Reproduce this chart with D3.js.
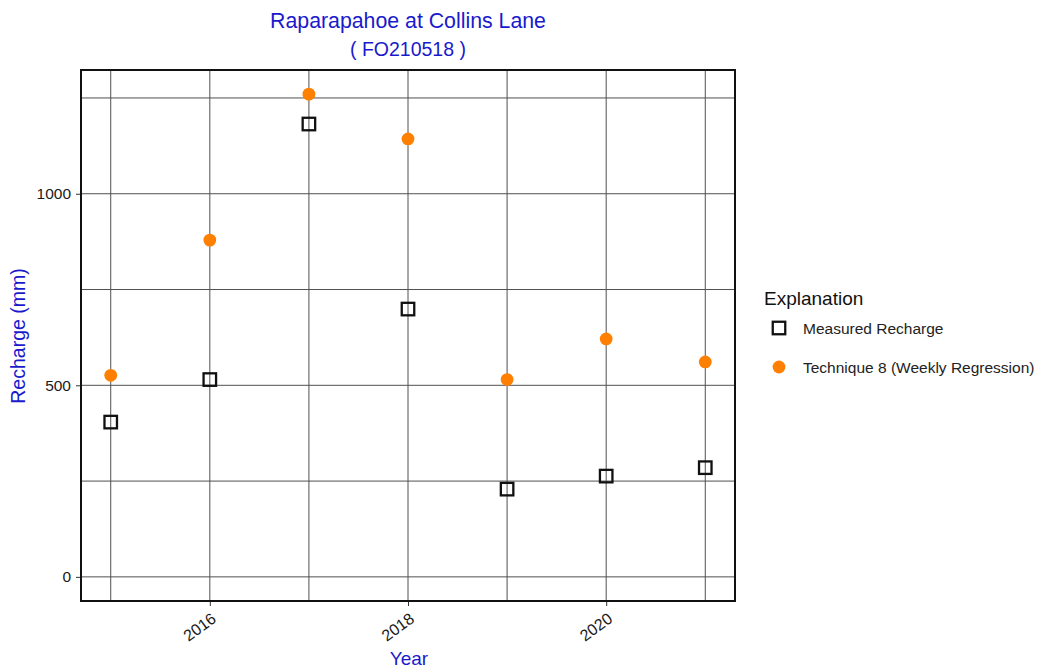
<!DOCTYPE html>
<html>
<head>
<meta charset="utf-8">
<script src="https://cdn.jsdelivr.net/npm/d3@7"></script>
<style>
  html, body { margin: 0; padding: 0; background: #fff; }
  svg { display: block; font-family: "Liberation Sans", Arial, sans-serif; }
</style>
</head>
<body>
<svg id="chart" width="1041" height="668"></svg>
<script>
// Annual recharge at Raparapahoe at Collins Lane (FO210518)
const years = [2015, 2016, 2017, 2018, 2019, 2020, 2021];
const measured = [404, 515, 1182, 699, 229, 263, 285];
const technique8 = [526, 879, 1260, 1143, 515, 621, 561];
const xTickLabels = [2016, 2018, 2020];
const yTickLabels = [0, 500, 1000];
const yGridValues = [0, 250, 500, 750, 1000, 1250];
const seriesNames = ["Measured Recharge", "Technique 8 (Weekly Regression)"];

const svg = d3.select("#chart");
const panel = { left: 81, right: 735, top: 70, bottom: 601 };
const blue = "#1a1acc";
const orange = "#ff8000";
const font = "'Liberation Sans', Arial, sans-serif";

// 5% padding around the data range (y range forced to include 0)
const xMin = d3.min(years), xMax = d3.max(years);
const xPad = (xMax - xMin) * 0.05;
const x = d3.scaleLinear()
  .domain([xMin - xPad, xMax + xPad])
  .range([panel.left, panel.right]);

const yLo = 0, yHi = d3.max(technique8.concat(measured));
const yPad = (yHi - yLo) * 0.05;
const y = d3.scaleLinear()
  .domain([yLo - yPad, yHi + yPad])
  .range([panel.bottom, panel.top]);

// Grid lines
const grid = svg.append("g");
grid.selectAll("line.h").data(yGridValues).join("line")
  .attr("class", "h")
  .attr("x1", panel.left).attr("x2", panel.right)
  .attr("y1", d => y(d)).attr("y2", d => y(d))
  .attr("stroke", "#505050").attr("stroke-width", 1);
grid.selectAll("line.v").data(years).join("line")
  .attr("class", "v")
  .attr("y1", panel.top).attr("y2", panel.bottom)
  .attr("x1", d => x(d)).attr("x2", d => x(d))
  .attr("stroke", "#505050").attr("stroke-width", 1);

// Axes
const xAxis = svg.append("g")
  .attr("transform", `translate(0,${panel.bottom})`)
  .call(d3.axisBottom(x).tickValues(xTickLabels).tickFormat(d3.format("d")).tickSize(5).tickPadding(4));
xAxis.attr("font-family", font);
xAxis.select(".domain").remove();
xAxis.selectAll(".tick line").attr("stroke", "#333");
xAxis.selectAll(".tick text")
  .attr("font-size", 16).attr("fill", "#1a1a1a")
  .attr("text-anchor", "end")
  .attr("x", 0).attr("y", 0).attr("dy", null)
  .attr("transform", "translate(7,20) rotate(-36)");

const yAxis = svg.append("g")
  .attr("transform", `translate(${panel.left},0)`)
  .call(d3.axisLeft(y).tickValues(yTickLabels).tickFormat(d3.format("d")).tickSize(5).tickPadding(5));
yAxis.attr("font-family", font);
yAxis.select(".domain").remove();
yAxis.selectAll(".tick line").attr("stroke", "#333");
yAxis.selectAll(".tick text").attr("font-size", 15.5).attr("fill", "#1a1a1a");

// Panel border
svg.append("rect")
  .attr("x", panel.left).attr("y", panel.top)
  .attr("width", panel.right - panel.left).attr("height", panel.bottom - panel.top)
  .attr("fill", "none").attr("stroke", "#111").attr("stroke-width", 2);

// Technique 8 points
svg.append("g").selectAll("circle").data(years).join("circle")
  .attr("cx", d => x(d))
  .attr("cy", (d, i) => y(technique8[i]))
  .attr("r", 6.4)
  .attr("fill", orange);

// Measured recharge squares
const sq = 12.5;
svg.append("g").selectAll("rect").data(years).join("rect")
  .attr("x", d => x(d) - sq / 2)
  .attr("y", (d, i) => y(measured[i]) - sq / 2)
  .attr("width", sq).attr("height", sq)
  .attr("fill", "none").attr("stroke", "#111").attr("stroke-width", 2.3);

// Titles
const cx = (panel.left + panel.right) / 2;
svg.append("text").attr("x", cx).attr("y", 28)
  .attr("text-anchor", "middle").attr("font-size", 21.3).attr("fill", blue)
  .text("Raparapahoe at Collins Lane");
svg.append("text").attr("x", cx).attr("y", 56)
  .attr("text-anchor", "middle").attr("font-size", 19.5).attr("fill", blue)
  .text("( FO210518 )");

svg.append("text").attr("x", cx + 1).attr("y", 665)
  .attr("text-anchor", "middle").attr("font-size", 19).attr("fill", blue)
  .text("Year");
svg.append("text")
  .attr("transform", `translate(25,336) rotate(-90)`)
  .attr("text-anchor", "middle").attr("font-size", 19.5).attr("fill", blue)
  .text("Recharge (mm)");

// Legend
const legend = svg.append("g");
legend.append("text").attr("x", 764).attr("y", 305)
  .attr("font-size", 19).attr("fill", "#111").text("Explanation");
legend.append("rect")
  .attr("x", 779 - sq / 2).attr("y", 328 - sq / 2).attr("width", sq).attr("height", sq)
  .attr("fill", "none").attr("stroke", "#111").attr("stroke-width", 2.3);
legend.append("circle").attr("cx", 779).attr("cy", 367).attr("r", 6.4).attr("fill", orange);
legend.selectAll("text.item").data(seriesNames).join("text")
  .attr("class", "item")
  .attr("x", 803).attr("y", (d, i) => 334 + i * 39)
  .attr("font-size", 15.5).attr("fill", "#222")
  .text(d => d);
</script>
</body>
</html>
